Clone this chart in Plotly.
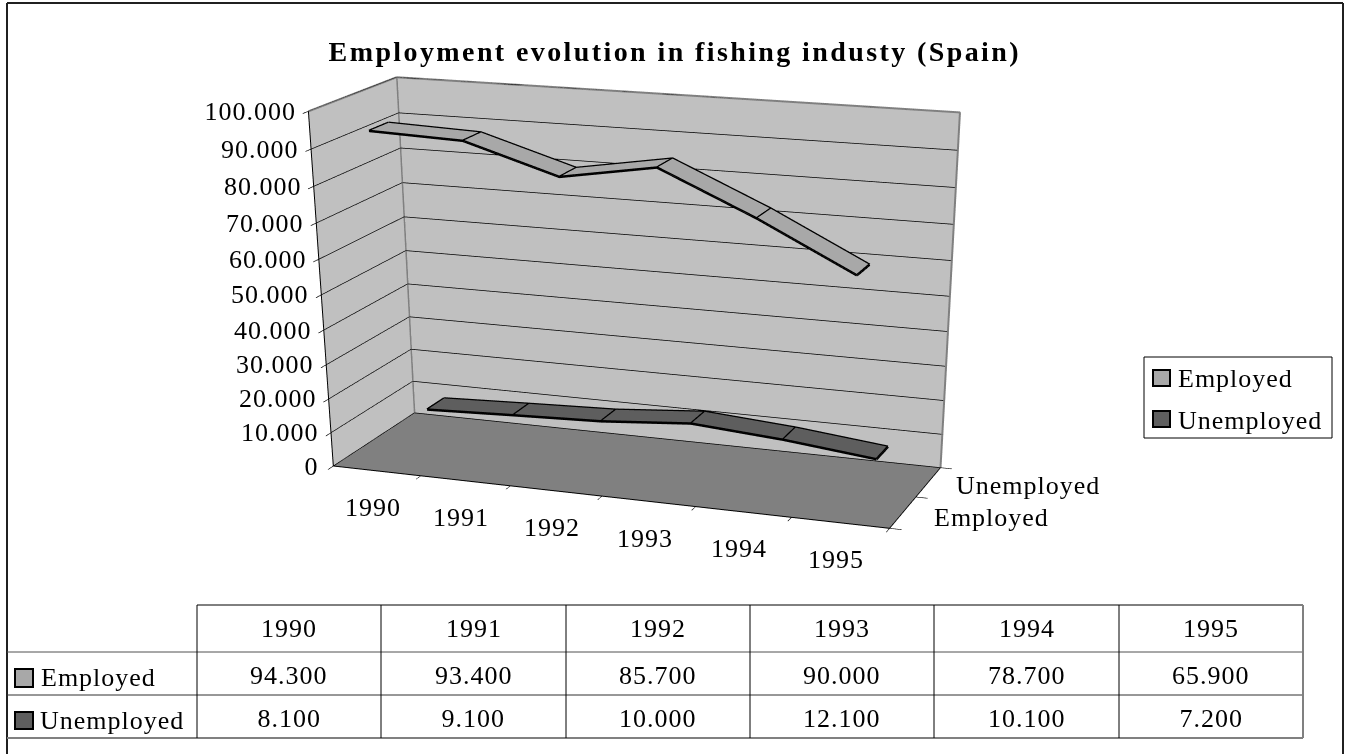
import plotly.graph_objects as go

title = "Employment evolution in fishing industy (Spain)"
years = ["1990", "1991", "1992", "1993", "1994", "1995"]
series = ["Employed", "Unemployed"]
employed = [94300, 93400, 85700, 90000, 78700, 65900]
unemployed = [8100, 9100, 10000, 12100, 10100, 7200]
z_ticks = [0, 10000, 20000, 30000, 40000, 50000, 60000, 70000, 80000, 90000, 100000]
series_colors = ["#a8a8a8", "#5e5e5e"]

font = "Liberation Serif"
# the scene's field of view is tied to the plot height, the flat perspective of the
# picture needs a tall page, only its top 754 px are in the window
page_h = 2071


def num(v):
    return f"{v:,}".replace(",", ".")


fig = go.Figure()
ribbon_half = 0.22
for i, (vals, col) in enumerate(zip([employed, unemployed], series_colors)):
    xs = [k + 0.5 for k in range(len(vals))]
    n = len(xs)
    y0, y1 = i + 0.5 - ribbon_half, i + 0.5 + ribbon_half
    fig.add_trace(go.Mesh3d(x=xs + xs, y=[y0] * n + [y1] * n, z=vals + vals,
                            i=[k for k in range(n - 1)] * 2,
                            j=[k + 1 for k in range(n - 1)] + [k + n + 1 for k in range(n - 1)],
                            k=[k + n + 1 for k in range(n - 1)] + [k + n for k in range(n - 1)],
                            color=col, flatshading=True,
                            lighting=dict(ambient=1, diffuse=0, specular=0, roughness=1, fresnel=0),
                            hoverinfo="skip", showlegend=False))
    lx, ly, lz = list(xs), [y0] * n, list(vals)
    lx += [None] + xs
    ly += [None] + [y1] * n
    lz += [None] + list(vals)
    for a, v in zip(xs, vals):
        lx += [None, a, a]
        ly += [None, y0, y1]
        lz += [None, v, v]
    fig.add_trace(go.Scatter3d(x=lx, y=ly, z=lz, mode="lines", line=dict(color="black", width=5),
                               hoverinfo="skip", showlegend=False))

# grey edges of the walls
fig.add_trace(go.Scatter3d(x=[0, 0, None, 0, 6, 6, None, 0, 0], y=[0, 2, None, 2, 2, 2, None, 2, 2],
                           z=[100000, 100000, None, 100000, 100000, 0, None, 0, 100000], mode="lines",
                           line=dict(color="#808080", width=4), hoverinfo="skip", showlegend=False))

scene_ann = []
for v in z_ticks:
    scene_ann.append(dict(x=0, y=0, z=v, text=num(v), showarrow=False, xanchor="right", xshift=-13,
                          font=dict(family=font, size=26, color="black")))
for k, yr in enumerate(years):
    scene_ann.append(dict(x=k + 0.5, y=0, z=0, text=yr, showarrow=False, xshift=-4, yshift=-37,
                          font=dict(family=font, size=26, color="black")))
for k, (s, dx, dy) in enumerate(zip(series, [89, 100], [-5, -3])):
    scene_ann.append(dict(x=6, y=k + 0.5, z=0, text=s, showarrow=False, xshift=dx, yshift=dy,
                          font=dict(family=font, size=26, color="black")))

axis_common = dict(showbackground=True, showspikes=False, title=dict(text=""), showticklabels=False,
                   ticks="outside", ticklen=10, tickcolor="black", tickwidth=1.5,
                   showline=True, linecolor="black", linewidth=2, zeroline=False)

fig.update_layout(
    width=1349, height=page_h, margin=dict(l=0, r=0, t=0, b=0),
    paper_bgcolor="white", showlegend=False,
    font=dict(family=font, color="black"),
    scene=dict(
        domain=dict(x=[0, 1], y=[0, 1]),
        aspectmode="manual", aspectratio=dict(x=1, y=0.340, z=0.588),
        camera=dict(eye=dict(x=1.468, y=-3.994, z=1.041),
                    center=dict(x=0.269, y=-0.569, z=-1.074),
                    up=dict(x=0, y=0, z=1)),
        xaxis=dict(range=[0, 6], tickvals=list(range(7)), showgrid=False, backgroundcolor="#c0c0c0", **axis_common),
        yaxis=dict(range=[0, 2], tickvals=[0, 1, 2], showgrid=False, backgroundcolor="#c0c0c0", **axis_common),
        zaxis=dict(range=[0, 100001], tickvals=z_ticks, showgrid=True, gridcolor="black", gridwidth=1.5,
                   backgroundcolor="#808080", **axis_common),
        annotations=scene_ann,
    ),
)


def fx(v):
    return v / 1349


def fy(v):
    return 1 - v / page_h


def line(x0, y0, x1, y1, color="black", width=1):
    fig.add_shape(type="line", xref="paper", yref="paper", x0=fx(x0), y0=fy(y0), x1=fx(x1), y1=fy(y1),
                  line=dict(color=color, width=width))


def rect(x0, y0, x1, y1, fill, lw=2):
    fig.add_shape(type="rect", xref="paper", yref="paper", x0=fx(x0), y0=fy(y0), x1=fx(x1), y1=fy(y1),
                  fillcolor=fill, line=dict(color="black", width=lw))


def text(x, y, s, size=26, bold=False):
    fig.add_annotation(xref="paper", yref="paper", x=fx(x), y=fy(y), text=s, showarrow=False,
                       xanchor="center", yanchor="middle",
                       font=dict(family=font, size=size, color="black", weight="bold" if bold else "normal"))


# outer frame
line(7, 3, 7, 754, "#202020", 2)
line(7, 3, 1343, 3, "#202020", 2)
line(1343, 3, 1343, 754, "#202020", 2)

text(675, 52, title, size=28, bold=True)

# legend
rect(1144, 357, 1332, 438, "white", 1)
rect(1153, 370, 1170, 386, series_colors[0])
rect(1153, 411, 1170, 427, series_colors[1])
text(1235, 379, series[0])
text(1250, 420, series[1])

# data table
col_x = [197, 381, 566, 750, 934, 1119, 1303]
line(197, 605, 1303, 605)
line(7, 652, 1303, 652, "#505050", 1)
line(7, 695, 1303, 695, "#303030", 1)
line(7, 738, 1303, 738, "#808080", 2)
for xx in col_x[:-1]:
    line(xx, 605, xx, 738)
line(1303, 605, 1303, 738, "#808080", 2)
for k, yr in enumerate(years):
    mid = (col_x[k] + col_x[k + 1]) / 2
    text(mid, 628, yr)
    text(mid, 675, num(employed[k]))
    text(mid, 718, num(unemployed[k]))
rect(15, 669, 33, 687, series_colors[0])
rect(15, 712, 33, 729, series_colors[1])
text(98, 677, series[0])
text(112, 720, series[1])

# the source picture is stretched sideways, so the text needs wider letter spacing
fig.write_html("out.html", config={"displayModeBar": False}, post_script="""
document.body.style.margin = 0;
document.documentElement.style.overflow = 'hidden';
var st = document.createElement('style');
st.textContent = '.annotation-text{letter-spacing:1px}' +
  '.annotation-text[style*="bold"]{letter-spacing:2.4px}';
document.head.appendChild(st);
""")
